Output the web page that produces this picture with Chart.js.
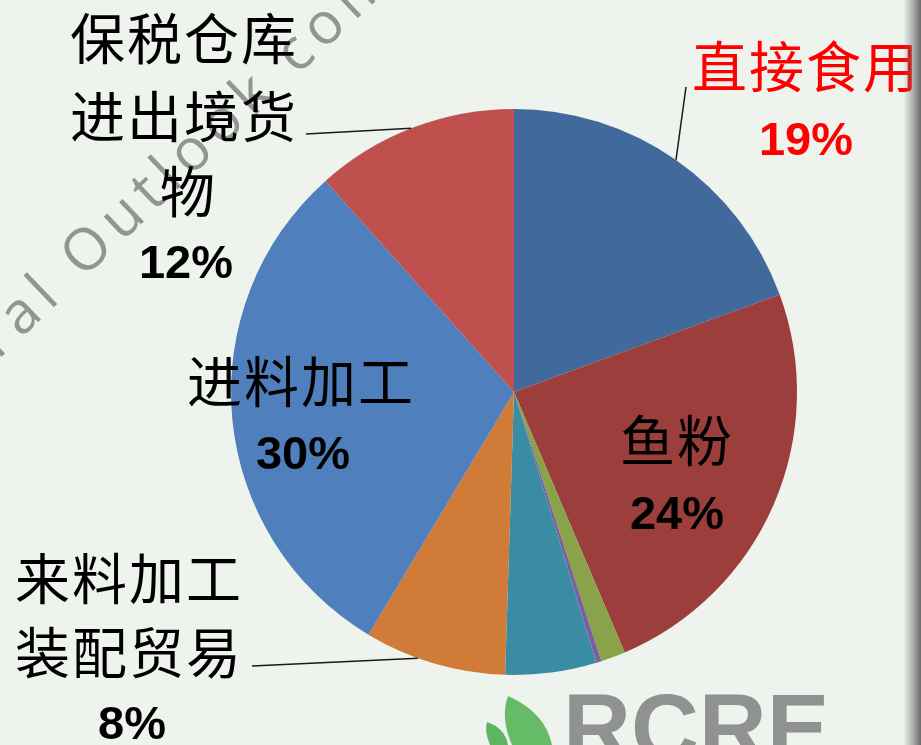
<!DOCTYPE html>
<html>
<head>
<meta charset="utf-8">
<script src="https://cdn.jsdelivr.net/npm/chart.js@4"></script>
<style>
  html, body { margin: 0; padding: 0; background: #eef3ed; overflow: hidden; }
  #wrap { position: relative; width: 921px; height: 745px; }
</style>
</head>
<body>
<div id="wrap"><canvas id="pieChart" width="921" height="745"></canvas></div>
<script>
// slice data, clockwise from 12 o'clock
var sliceNames = ['直接食用', '鱼粉', '其他1', '其他2', '其他3', '来料加工装配贸易', '进料加工', '保税仓库进出境货物'];
var sliceValues = [19.4, 24.2, 1.4, 0.3, 5.2, 8.1, 29.8, 11.6];
var sliceColors = ['#41699b', '#9c3f3c', '#88a34a', '#7c5ea1', '#3a8ca5', '#d07b37', '#4f80bd', '#c0504d'];

// label text lines per slice (empty = no label)
var labelLines = [['直接食用'], ['鱼粉'], [], [], [], ['来料加工', '装配贸易'], ['进料加工'], ['保税仓库', '进出境货', '物']];

let ctxPie = document.getElementById('pieChart').getContext('2d');

function pct(i) {
    var sum = sliceValues.reduce(function (a, b) { return a + b; }, 0);
    return Math.round(sliceValues[i] / sum * 100) + '%';
}

function edgePoint(chart, i, f) {
    var arc = chart.getDatasetMeta(0).data[i];
    var a = arc.startAngle + f * (arc.endAngle - arc.startAngle);
    return { x: arc.x + arc.outerRadius * Math.cos(a), y: arc.y + arc.outerRadius * Math.sin(a) };
}

var cjk = '"Noto Sans CJK SC", sans-serif';
var num = 'bold 47px "Liberation Sans", Arial, sans-serif';

function cjkText(ctx, s, x, y, color) {
    ctx.save();
    ctx.font = '400 55px ' + cjk;
    ctx.fillStyle = color;
    ctx.textBaseline = 'middle';
    ctx.textAlign = 'left';
    var pitch = 57;
    for (var k = 0; k < s.length; k++) {
        ctx.fillText(s[k], x + k * pitch, y);
    }
    ctx.restore();
}

function numText(ctx, s, cx, y, color) {
    ctx.save();
    ctx.font = num;
    ctx.fillStyle = color;
    ctx.textBaseline = 'middle';
    ctx.textAlign = 'center';
    ctx.fillText(s, cx, y);
    ctx.restore();
}

var labelsPlugin = {
    id: 'pieLabels',
    beforeDraw: function (chart) {
        var ctx = chart.ctx;
        ctx.save();
        ctx.fillStyle = '#eef3ed';
        ctx.fillRect(0, 0, chart.width, chart.height);
        // watermark
        ctx.translate(90, 250);
        ctx.rotate(-0.76);
        ctx.font = '400 58px "Open Sans", "DejaVu Sans", sans-serif';
        ctx.letterSpacing = '8px';
        ctx.fillStyle = '#939593';
        ctx.textBaseline = 'middle';
        ctx.textAlign = 'left';
        ctx.fillText('Outlook com', -25, 0);
        ctx.textAlign = 'right';
        ctx.fillText('Agricultural ', -25, 0);
        ctx.restore();
    },
    afterDraw: function (chart) {
        var ctx = chart.ctx;
        // leader lines
        ctx.save();
        ctx.strokeStyle = '#1a1a1a';
        ctx.lineWidth = 1.5;
        var p = edgePoint(chart, 0, 0.5);
        ctx.beginPath(); ctx.moveTo(686, 87); ctx.lineTo(p.x, p.y); ctx.stroke();
        p = edgePoint(chart, 7, 0.49);
        ctx.beginPath(); ctx.moveTo(306, 134); ctx.lineTo(p.x, p.y); ctx.stroke();
        p = edgePoint(chart, 5, 0.62);
        ctx.beginPath(); ctx.moveTo(252, 666); ctx.lineTo(p.x, p.y); ctx.stroke();
        ctx.restore();

        // labels
        cjkText(ctx, labelLines[0][0], 692, 66, '#ff0000');
        numText(ctx, pct(0), 806, 142, '#ff0000');

        cjkText(ctx, labelLines[1][0], 620, 440, '#000');
        numText(ctx, pct(1), 677, 516, '#000');

        cjkText(ctx, labelLines[6][0], 187, 381, '#000');
        numText(ctx, pct(6), 303, 456, '#000');

        cjkText(ctx, labelLines[7][0], 70, 38, '#000');
        cjkText(ctx, labelLines[7][1], 70, 116, '#000');
        cjkText(ctx, labelLines[7][2], 160, 191, '#000');
        numText(ctx, pct(7), 186, 265, '#000');

        cjkText(ctx, labelLines[5][0], 15, 578, '#000');
        cjkText(ctx, labelLines[5][1], 15, 652, '#000');
        numText(ctx, pct(5), 132, 726, '#000');

        // logo
        ctx.save();
        ctx.fillStyle = '#5fb55f';
        ctx.beginPath();
        ctx.moveTo(490, 745);
        ctx.quadraticCurveTo(484, 730, 487, 722);
        ctx.quadraticCurveTo(505, 728, 508, 745);
        ctx.closePath(); ctx.fill();
        ctx.fillStyle = '#66bb66';
        ctx.beginPath();
        ctx.moveTo(512, 745);
        ctx.quadraticCurveTo(500, 718, 508, 696);
        ctx.quadraticCurveTo(545, 712, 552, 745);
        ctx.closePath(); ctx.fill();
        ctx.font = 'bold 94px "Liberation Sans", Arial, sans-serif';
        ctx.fillStyle = '#8f9290';
        ctx.textBaseline = 'alphabetic';
        ctx.textAlign = 'left';
        ctx.fillText('RCRE', 563, 760);
        // right edge shadow
        var g = ctx.createLinearGradient(903, 0, 921, 0);
        g.addColorStop(0, 'rgba(120,120,120,0)');
        g.addColorStop(1, 'rgba(90,90,90,0.9)');
        ctx.fillStyle = g;
        ctx.fillRect(903, 0, 18, 745);
        ctx.restore();
    }
};

let pie = new Chart(ctxPie, {
    type: 'pie',
    data: {
        labels: sliceNames,
        datasets: [{
            data: sliceValues,
            backgroundColor: sliceColors,
            borderWidth: 0
        }]
    },
    options: {
        responsive: false,
        animation: false,
        layout: { padding: { top: 109, bottom: 70, left: 231, right: 124 } },
        plugins: {
            legend: { display: false },
            tooltip: { enabled: false }
        }
    },
    plugins: [labelsPlugin]
});
</script>
</body>
</html>
